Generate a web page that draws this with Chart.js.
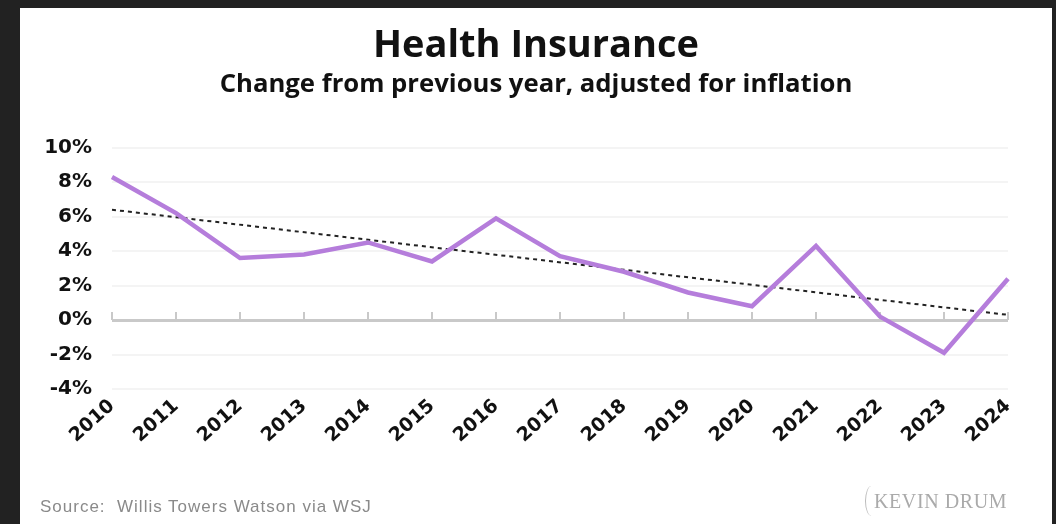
<!DOCTYPE html>
<html>
<head>
<meta charset="utf-8">
<script src="https://cdn.jsdelivr.net/npm/chart.js@4.4.1/dist/chart.umd.min.js"></script>
<style>
  html, body { margin: 0; padding: 0; background: #222; }
  body { width: 1056px; height: 524px; position: relative; overflow: hidden; }
  .panel { position: absolute; left: 20px; top: 8px; width: 1032px; height: 516px; background: #fff; }
  .chartBox { position: absolute; left: 0; top: 0; width: 1032px; height: 516px; }
  .source { position: absolute; left: 20px; top: 489px; font: 17px "Liberation Sans", sans-serif; color: #8a8a8a; letter-spacing: 1px; }
  .logo { position: absolute; left: 845px; top: 478px; font: 20px "Liberation Serif", serif; color: #aaa; letter-spacing: 0.6px; }
  .logo .swoosh { display: inline-block; width: 12px; height: 30px; border-left: 1.5px solid #bbb; border-radius: 50% 0 0 50%; vertical-align: -8px; margin-right: -4px; }
</style>
</head>
<body>
<div class="panel">
  <div class="chartBox"><canvas class="chart"></canvas></div>
  <div class="source">Source:&nbsp; Willis Towers Watson via WSJ</div>
  <div class="logo"><span class="swoosh"></span>KEVIN DRUM</div>
</div>
<script>
// data
const years = ["2010", "2011", "2012", "2013", "2014", "2015", "2016", "2017",
  "2018", "2019", "2020", "2021", "2022", "2023", "2024"];
const changes = [8.3, 6.2, 3.6, 3.8, 4.5, 3.4, 5.9, 3.7, 2.8, 1.6, 0.8, 4.3, 0.2, -1.9, 2.4];
// trend line: only its two end points
const trend = [6.4, null, null, null, null, null, null, null, null, null, null, null, null, null, 0.3];
const yTicks = [10, 8, 6, 4, 2, 0, -2, -4];

// small gray tick marks sitting on the zero line
const zeroTicks = {
  id: "zeroTicks",
  beforeDatasetsDraw(chart) {
    const { ctx, scales } = chart;
    const y0 = scales.y.getPixelForValue(0);
    ctx.save();
    ctx.strokeStyle = "#c9c9c9";
    ctx.lineWidth = 2;
    years.forEach((yr, i) => {
      const x = scales.x.getPixelForTick(i);
      ctx.beginPath();
      ctx.moveTo(x, y0);
      ctx.lineTo(x, y0 - 8);
      ctx.stroke();
    });
    ctx.restore();
  },
};

const ctx = document.querySelector(".chart");
const myChart = new Chart(ctx, {
  type: "line",
  data: {
    labels: years,
    datasets: [
      {
        label: "Change",
        data: changes,
        borderColor: "#b57ddb",
        borderWidth: 4.5,
        pointRadius: 0,
        tension: 0,
        borderJoinStyle: "miter",
      },
      {
        label: "Trend",
        data: trend,
        spanGaps: true,
        borderColor: "#222",
        borderWidth: 2,
        borderDash: [4, 4],
        pointRadius: 0,
      },
    ],
  },
  options: {
    responsive: true,
    maintainAspectRatio: false,
    animation: false,
    layout: { padding: { left: 0, right: 0, top: 0, bottom: 66 } },
    plugins: {
      legend: { display: false },
      tooltip: { enabled: false },
      title: {
        display: true,
        text: "Health Insurance",
        color: "#111",
        font: { family: "'Open Sans', sans-serif", size: 38, weight: "bold", lineHeight: 1.1 },
        padding: { top: 17, bottom: 0 },
      },
      subtitle: {
        display: true,
        text: "Change from previous year, adjusted for inflation",
        color: "#111",
        font: { family: "'Open Sans', sans-serif", size: 25.7, weight: "bold" },
        padding: { top: 2, bottom: 48 },
      },
    },
    scales: {
      x: {
        offset: false,
        grid: { display: false },
        border: { display: false },
        afterFit: (scale) => { scale.height = 69; },
        ticks: {
          color: "#111",
          maxRotation: 42,
          minRotation: 42,
          padding: -2,
          font: { family: "'DejaVu Sans', sans-serif", size: 19, weight: "bold" },
        },
      },
      y: {
        min: -4,
        max: 10,
        afterFit: (scale) => { scale.width = 92; },
        afterBuildTicks: (scale) => { scale.ticks = yTicks.map((v) => ({ value: v })); },
        border: { display: false },
        grid: {
          drawTicks: false,
          color: (c) => (c.tick && c.tick.value === 0 ? "#c9c9c9" : "#f4f4f4"),
          lineWidth: (c) => (c.tick && c.tick.value === 0 ? 3 : 2),
        },
        ticks: {
          color: "#111",
          padding: 20,
          font: { family: "'DejaVu Sans', sans-serif", size: 20, weight: "bold" },
          callback: (v) => v + "%",
        },
      },
      // empty right-hand axis, only keeps a margin so the title stays centred on the page
      yRight: {
        position: "right",
        min: -4,
        max: 10,
        afterFit: (scale) => { scale.width = 44; },
        grid: { display: false },
        border: { display: false },
        ticks: { display: false },
      },
    },
  },
  plugins: [zeroTicks],
});
</script>
</body>
</html>
